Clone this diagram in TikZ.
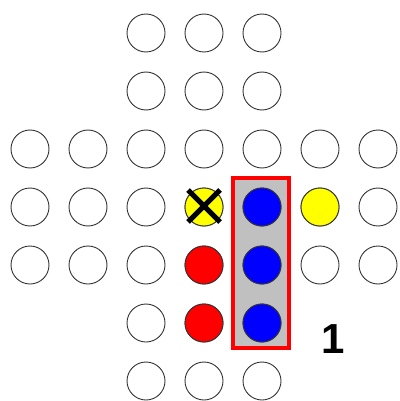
\documentclass[tikz,border=0pt]{standalone}
\usepackage{fontspec}
\setmainfont{Liberation Sans}
\definecolor{pegblue}{RGB}{0,0,255}
\definecolor{pegred}{RGB}{255,0,0}
\definecolor{pegyellow}{RGB}{255,255,0}
\definecolor{boxgray}{RGB}{192,192,192}
\tikzset{
  hole/.style={circle, draw=black!80, line width=0.9pt, minimum size=38pt, inner sep=0pt, fill=white},
  bluepeg/.style={hole, fill=pegblue},
  redpeg/.style={hole, fill=pegred},
  yellowpeg/.style={hole, fill=pegyellow},
  selbox/.style={draw=pegred, fill=boxgray, line width=4pt},
  crossline/.style={line width=5pt, black},
  label/.style={font=\fontsize{42}{42}\selectfont\bfseries, text=black, inner sep=0pt}
}
\begin{document}
\begin{tikzpicture}[x=1pt,y=-1pt]
\useasboundingbox (0,0) rectangle (399,401);
% selection box
\draw[selbox] (233,178) rectangle (289,348);
% board holes
\foreach \c in {0,...,6}{
  \foreach \r in {0,...,6}{
    \pgfmathtruncatemacro{\inside}{((\c>=2 && \c<=4) || (\r>=2 && \r<=4)) ? 1 : 0}
    \ifnum\inside=1
      \node[hole] (h\c\r) at ({30+58*\c},{33+58*\r}) {};
    \fi
  }
}
% pegs
\node[yellowpeg] (y1) at (204,207) {};
\node[yellowpeg] (y2) at (320,207) {};
\node[redpeg] (r1) at (204,265) {};
\node[redpeg] (r2) at (204,323) {};
\node[bluepeg] (b1) at (262,207) {};
\node[bluepeg] (b2) at (262,265) {};
\node[bluepeg] (b3) at (262,323) {};
% cross on removed peg
\draw[crossline] (y1.center) ++(-16,-17) -- ++(32,32);
\draw[crossline] (y1.center) ++(16,-17) -- ++(-32,32);
% label
\node[label] (lab) at (333,339) {1};
\end{tikzpicture}
\end{document}
